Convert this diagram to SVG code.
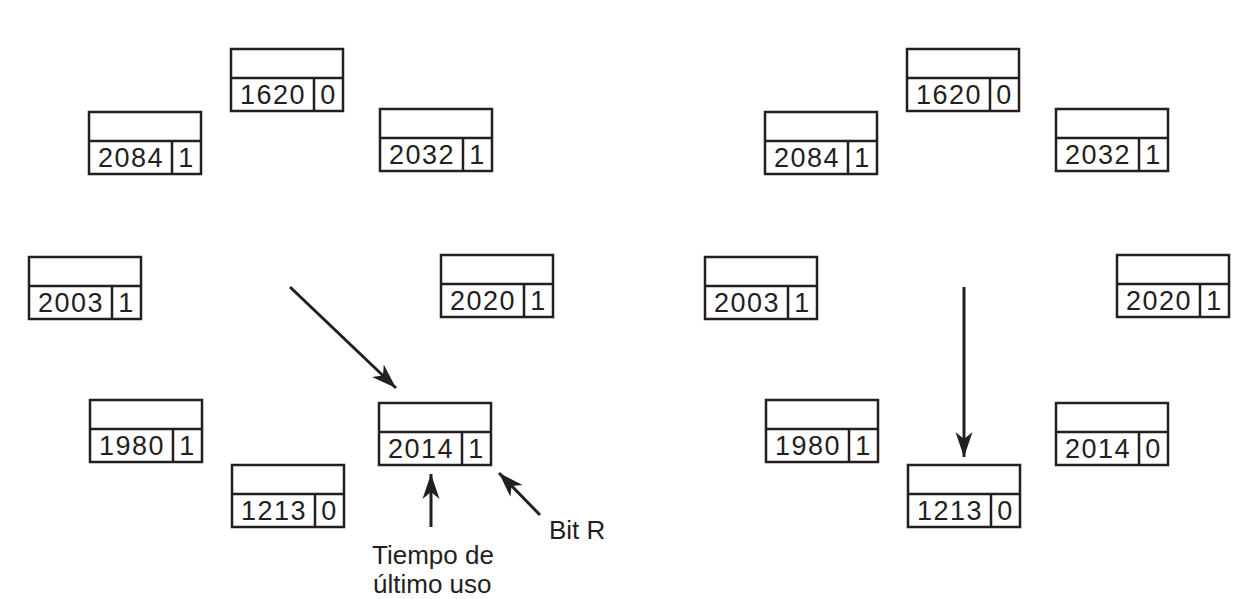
<svg xmlns="http://www.w3.org/2000/svg" width="1248" height="599" viewBox="0 0 1248 599">
<style>
.bx{fill:#fff;stroke:#231f20;stroke-width:2.5}
.bl{stroke:#231f20;stroke-width:2.5}
.b text{font-family:"Liberation Sans",Arial,sans-serif;font-size:27px;fill:#231f20;text-anchor:middle;letter-spacing:1.5px}
.lbl{font-family:"Liberation Sans",Arial,sans-serif;font-size:26px;fill:#231f20}
.c line{stroke:#231f20;stroke-width:3}
</style>
<defs>
<marker id="ah" markerUnits="userSpaceOnUse" markerWidth="30" markerHeight="20" viewBox="-26 -10 30 20" refX="0" refY="0" orient="auto">
<path d="M0,0 L-25,-8.5 L-18,0 L-25,8.5 Z" fill="#231f20"/>
</marker>
<g id="box">
<rect class="bx" x="0" y="0" width="112" height="62" fill="#fff" stroke="#231f20" stroke-width="2.5"/>
<line class="bl" x1="0" y1="29" x2="112" y2="29" stroke="#231f20" stroke-width="2.5"/>
<line class="bl" x1="83" y1="29" x2="83" y2="62" stroke="#231f20" stroke-width="2.5"/>
</g>
</defs>

<g id="L1620" class="b" transform="translate(231,49)"><use href="#box"/><text x="42" y="55">1620</text><text x="97.5" y="55">0</text></g>
<g id="L2084" class="b" transform="translate(89,112)"><use href="#box"/><text x="42" y="55">2084</text><text x="97.5" y="55">1</text></g>
<g id="L2032" class="b" transform="translate(380,109)"><use href="#box"/><text x="42" y="55">2032</text><text x="97.5" y="55">1</text></g>
<g id="L2003" class="b" transform="translate(29,257)"><use href="#box"/><text x="42" y="55">2003</text><text x="97.5" y="55">1</text></g>
<g id="L2020" class="b" transform="translate(441,255)"><use href="#box"/><text x="42" y="55">2020</text><text x="97.5" y="55">1</text></g>
<g id="L1980" class="b" transform="translate(90,400)"><use href="#box"/><text x="42" y="55">1980</text><text x="97.5" y="55">1</text></g>
<g id="L2014" class="b" transform="translate(379,403)"><use href="#box"/><text x="42" y="55">2014</text><text x="97.5" y="55">1</text></g>
<g id="L1213" class="b" transform="translate(232,465)"><use href="#box"/><text x="42" y="55">1213</text><text x="97.5" y="55">0</text></g>

<g id="R1620" class="b" transform="translate(907,49)"><use href="#box"/><text x="42" y="55">1620</text><text x="97.5" y="55">0</text></g>
<g id="R2084" class="b" transform="translate(765,112)"><use href="#box"/><text x="42" y="55">2084</text><text x="97.5" y="55">1</text></g>
<g id="R2032" class="b" transform="translate(1056,109)"><use href="#box"/><text x="42" y="55">2032</text><text x="97.5" y="55">1</text></g>
<g id="R2003" class="b" transform="translate(705,257)"><use href="#box"/><text x="42" y="55">2003</text><text x="97.5" y="55">1</text></g>
<g id="R2020" class="b" transform="translate(1117,255)"><use href="#box"/><text x="42" y="55">2020</text><text x="97.5" y="55">1</text></g>
<g id="R1980" class="b" transform="translate(766,400)"><use href="#box"/><text x="42" y="55">1980</text><text x="97.5" y="55">1</text></g>
<g id="R2014" class="b" transform="translate(1056,403)"><use href="#box"/><text x="42" y="55">2014</text><text x="97.5" y="55">0</text></g>
<g id="R1213" class="b" transform="translate(908,465)"><use href="#box"/><text x="42" y="55">1213</text><text x="97.5" y="55">0</text></g>

<g id="connectors" class="c">
<line x1="290" y1="287" x2="396" y2="388" marker-end="url(#ah)"/>
<line x1="964" y1="287" x2="964" y2="457" marker-end="url(#ah)"/>
<line x1="431" y1="527" x2="431" y2="474" marker-end="url(#ah)"/>
<line x1="540" y1="515" x2="499" y2="473" marker-end="url(#ah)"/>
</g>

<g id="labels">
<text class="lbl" x="372" y="564">Tiempo de</text>
<text class="lbl" x="373" y="593">último uso</text>
<text class="lbl" x="549" y="539">Bit R</text>
</g>
</svg>
